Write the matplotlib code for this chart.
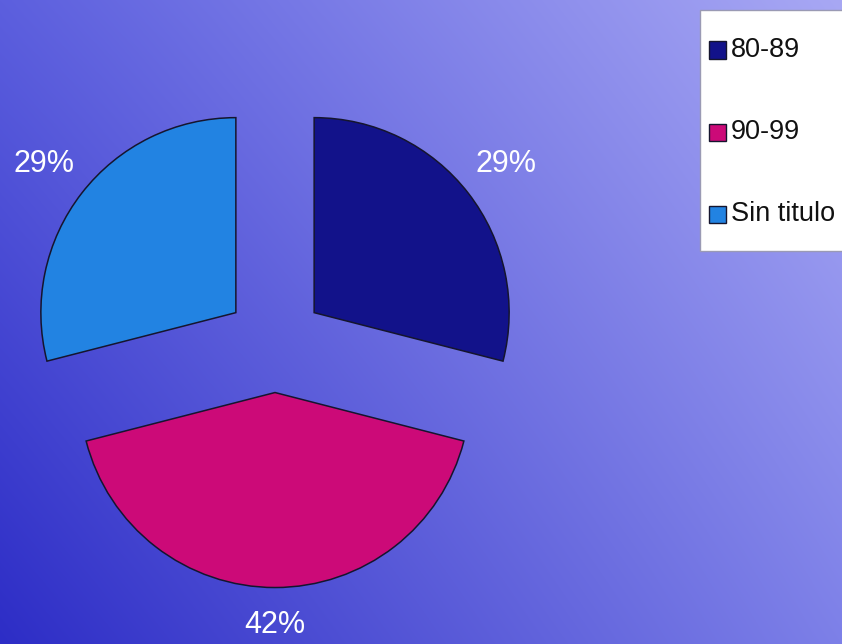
import numpy as np
import matplotlib
matplotlib.use("Agg")
import matplotlib.pyplot as plt
from matplotlib.patches import Rectangle

# Data
categories = ["80-89", "90-99", "Sin titulo"]
shares = [29, 42, 29]
slice_colors = ["#12128a", "#cc0a78", "#2283e2"]

W, H, DPI = 842, 644, 100
fig = plt.figure(figsize=(W / DPI, H / DPI), dpi=DPI)

# Diagonal blue/lavender gradient background
bg = fig.add_axes([0, 0, 1, 1], zorder=0)
bg.set_axis_off()
tl = np.array([92, 95, 222]) / 255
tr = np.array([168, 168, 244]) / 255
bl = np.array([45, 45, 198]) / 255
br = np.array([125, 128, 232]) / 255
u = np.linspace(0, 1, W)[None, :, None]
v = np.linspace(0, 1, H)[:, None, None]
top = tl + (tr - tl) * u
bot = bl + (br - bl) * u
img = top + (bot - top) * v
bg.imshow(img, aspect="auto", extent=(0, 1, 0, 1), origin="upper")
bg.set_xlim(0, 1)
bg.set_ylim(0, 1)

# Pie axes spanning the figure; one data unit = pie radius (195 px)
R = 195.0
cx, cy = 275.0, 343.0  # pie centre in pixels from top-left
ax = fig.add_axes([0, 0, 1, 1], zorder=1)
ax.patch.set_alpha(0)
wedges, texts, autotexts = ax.pie(
    shares,
    colors=slice_colors,
    startangle=90,
    counterclock=False,
    explode=[0.254] * len(shares),
    autopct=lambda p: f"{p:.0f}%",
    pctdistance=1.245,
    wedgeprops=dict(edgecolor="#15152e", linewidth=1.1),
    textprops=dict(color="white", fontsize=22, family="Liberation Sans"),
)
# Bottom label sits a little closer to its wedge
x0, y0 = autotexts[1].get_position()
autotexts[1].set_position((x0, y0 * 0.965))

ax.set_xlim(-cx / R, (W - cx) / R)
ax.set_ylim(-(H - cy) / R, cy / R)
ax.set_aspect("auto")
ax.set_axis_off()

# Legend box (clipped by the right edge of the figure)
def px(x, y):
    return x / W, 1 - y / H

box_x0, box_y0, box_x1, box_y1 = 700, 10, 860, 251
fig.add_artist(Rectangle(px(box_x0, box_y1), (box_x1 - box_x0) / W,
                         (box_y1 - box_y0) / H, transform=fig.transFigure,
                         facecolor="white", edgecolor="#9a9ab4", linewidth=1.0,
                         zorder=3))
entry_y = [50, 132, 214]
sq = 17
for w, label, yc in zip(wedges, categories, entry_y):
    fig.add_artist(Rectangle(px(709, yc + sq / 2), sq / W, sq / H,
                             transform=fig.transFigure,
                             facecolor=w.get_facecolor(), edgecolor="#15152e",
                             linewidth=1.0, zorder=4))
    fig.text(*px(731, yc), label, ha="left", va="center", fontsize=19.5,
             family="Liberation Sans", color="#111111", zorder=5)

fig.savefig("out.png", dpi=DPI)
